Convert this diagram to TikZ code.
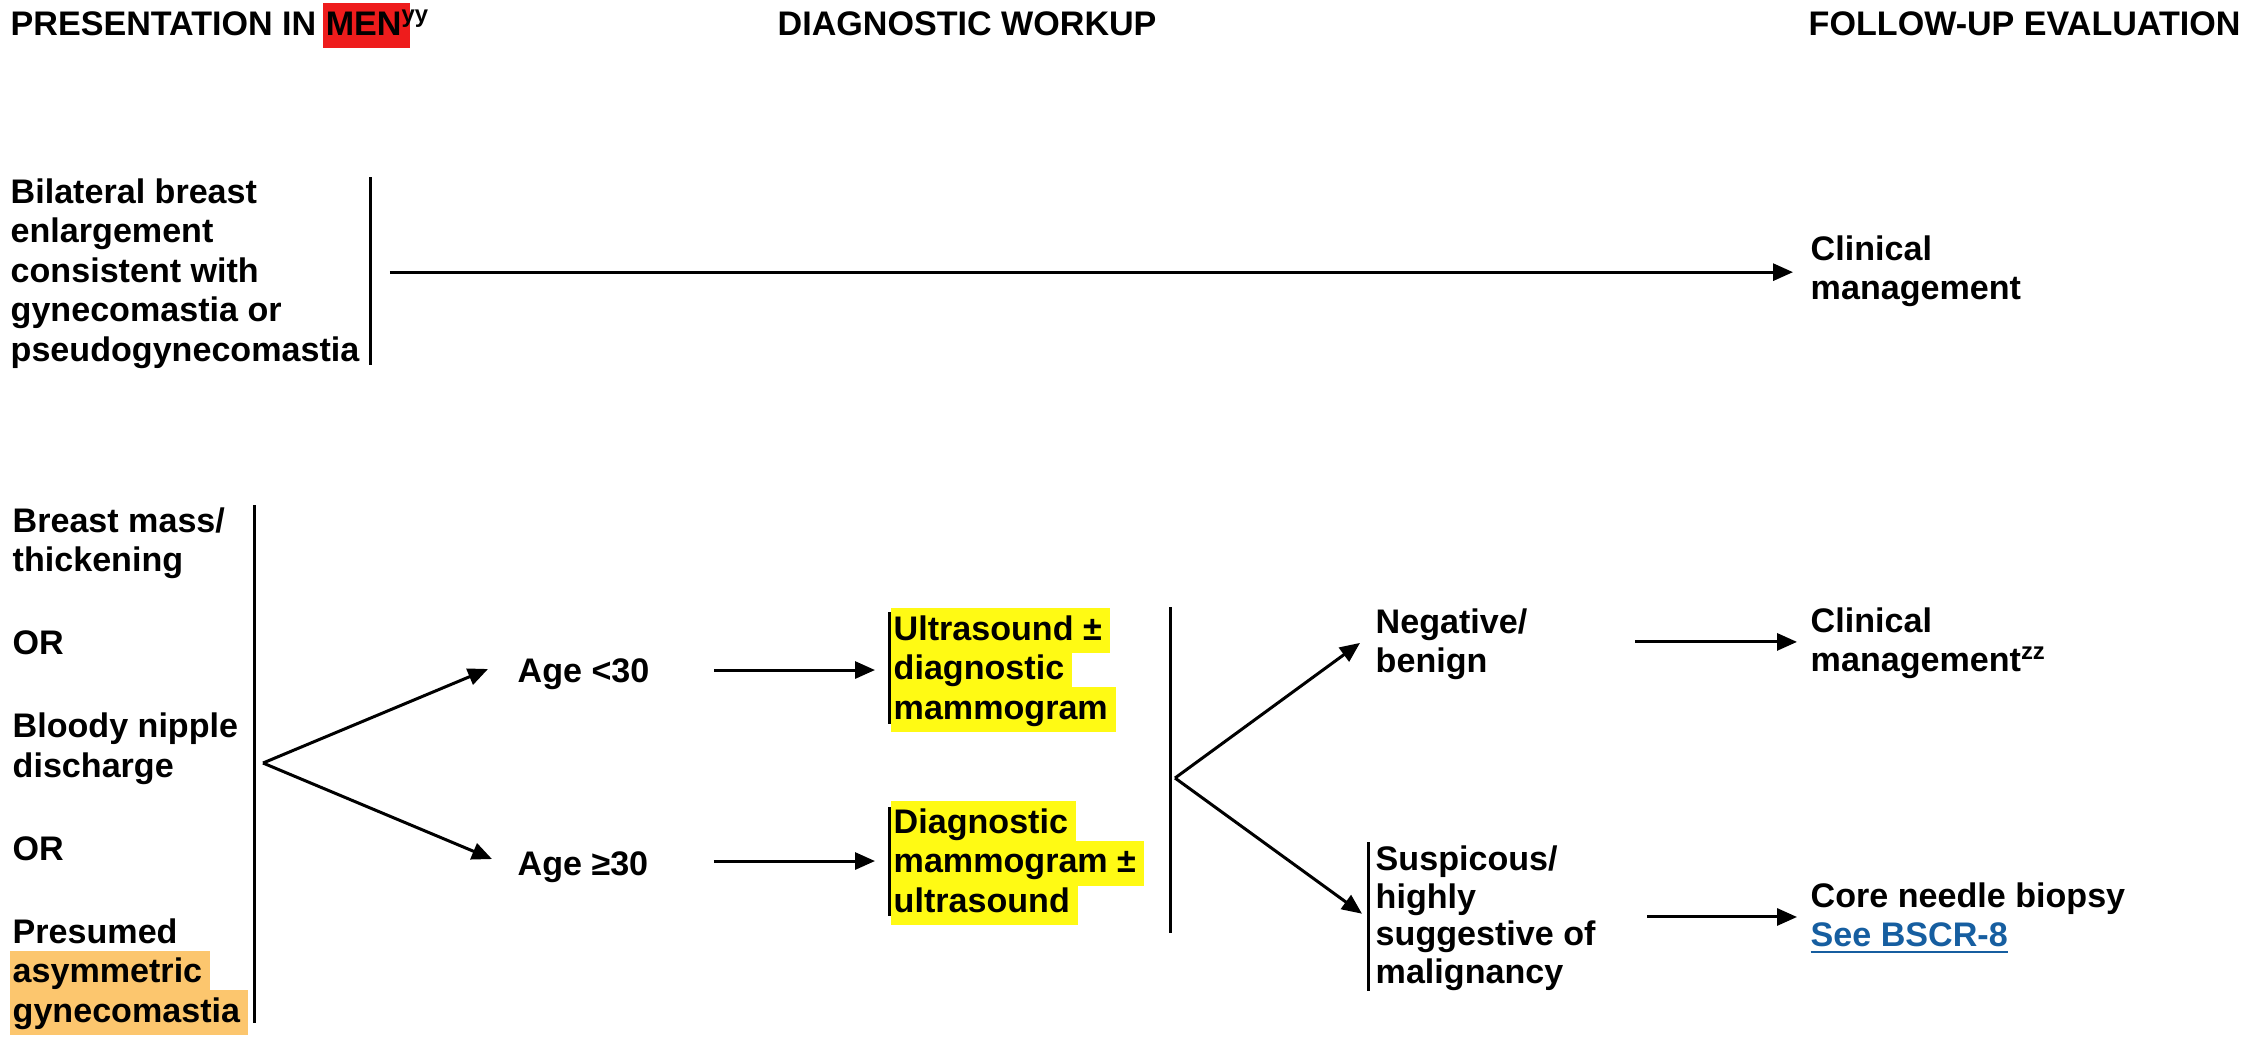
\documentclass[tikz,border=0pt]{standalone}
\usepackage{fontspec}
\setmainfont{Liberation Sans}
\usetikzlibrary{arrows.meta,calc}
\definecolor{hlyellow}{RGB}{255,250,20}
\definecolor{hlorange}{RGB}{252,198,110}
\definecolor{hlred}{RGB}{238,28,28}
\definecolor{linkblue}{RGB}{22,94,160}
\newlength\hlwidth
\newcommand\hlt[2]{\settowidth\hlwidth{#2}\rlap{\kern-0.3mm\smash{\textcolor{#1}{\rule[-1.3mm]{\dimexpr\hlwidth+1.1mm\relax}{4.5mm}}}}#2}
\tikzset{
  txt/.style={inner sep=0pt, anchor=north west, align=left,
    font=\bfseries\fontsize{9.7pt}{3.95mm}\selectfont},
  one/.style={inner sep=0pt, anchor=base west, text height=2.4mm, text depth=0pt,
    font=\bfseries\fontsize{9.7pt}{3.95mm}\selectfont},
  arr/.style={line width=0.3mm, -{Triangle[length=2mm,width=1.7mm]}},
  bar/.style={line width=0.3mm},
}
\begin{document}
\begin{tikzpicture}[x=0.1mm,y=-0.1mm]
\useasboundingbox (0,0) rectangle (2268,1040);

% headers
\node[one] (hdr1) at (10,35) {PRESENTATION IN \hlt{hlred}{MEN}\textsuperscript{yy}};
\node[one] (hdr2) at (777,35) {DIAGNOSTIC WORKUP};
\node[one] (hdr3) at (1808,35) {FOLLOW-UP EVALUATION};

% top row
\node[txt] (bil) at (10,175) {\strut Bilateral breast\\enlargement\\consistent with\\gynecomastia or\\pseudogynecomastia};
\node[txt] (clin1) at (1810,232) {\strut Clinical\\management};
\draw[bar] (370,177) -- (370,365);
\draw[arr] ($(bil.east)+(30,0)$) -- ($(bil.east -| clin1.west)+(-17,0)$);

% lower left
\node[txt] (sym) at (12,504) {\strut Breast mass/\\thickening\\[4.35mm]OR\\[4.35mm]Bloody nipple\\discharge\\[4.35mm]OR\\[4.35mm]Presumed\\\hlt{hlorange}{asymmetric}\\\hlt{hlorange}{gynecomastia}};
\draw[bar] (254,505) -- (254,1023);
\coordinate (f1) at (263,763);

\node[one] (a1) at (517,682) {Age <30};
\node[one] (a2) at (517,875) {Age ≥30};
\draw[arr] (f1) -- ($(a1.west)+(-29,-1)$);
\draw[arr] (f1) -- ($(a2.west)+(-25,-4)$);

\node[txt] (us) at (893,612) {\strut\hlt{hlyellow}{Ultrasound ±}\\\hlt{hlyellow}{diagnostic}\\\hlt{hlyellow}{mammogram}};
\node[txt] (dm) at (893,805) {\strut\hlt{hlyellow}{Diagnostic}\\\hlt{hlyellow}{mammogram ±}\\\hlt{hlyellow}{ultrasound}};
\draw[bar] ($(us.north west)+(-4,0)$) -- ($(us.south west)+(-4,-3)$);
\draw[bar] ($(dm.north west)+(-4,2)$) -- ($(dm.south west)+(-4,3)$);
\draw[arr] ($(a1.east)+(64,0)$) -- ($(a1.east -| us.west)+(-18,0)$);
\draw[arr] ($(a2.east)+(65,-2)$) -- ($(a2.east -| dm.west)+(-18,-2)$);

% results
\draw[bar] (1170,607) -- (1170,933);
\coordinate (f2) at (1175,778);
\node[txt] (neg) at (1375,605) {\strut Negative/\\benign};
\node[txt, font=\bfseries\fontsize{9.7pt}{3.75mm}\selectfont] (sus) at (1375,844) {\strut Suspicous/\\highly\\suggestive of\\malignancy};
\draw[bar] ($(sus.north west)+(-7,-2)$) -- ($(sus.south west)+(-7,0)$);
\draw[arr] (f2) -- ($(neg.west)+(-15,0)$);
\draw[arr] (f2) -- ($(sus.west)+(-13,-4)$);

\node[txt] (clin2) at (1810,604) {\strut Clinical\\management\textsuperscript{zz}};
\node[txt] (core) at (1810,879) {\strut Core needle biopsy\\{\color{linkblue}\underline{See BSCR-8}}};
\draw[arr] ($(neg.east |- clin2.west)+(107,0)$) -- ($(clin2.west)+(-13,0)$);
\draw[arr] ($(sus.east |- core.west)+(51,0)$) -- ($(core.west)+(-13,0)$);
\end{tikzpicture}
\end{document}
